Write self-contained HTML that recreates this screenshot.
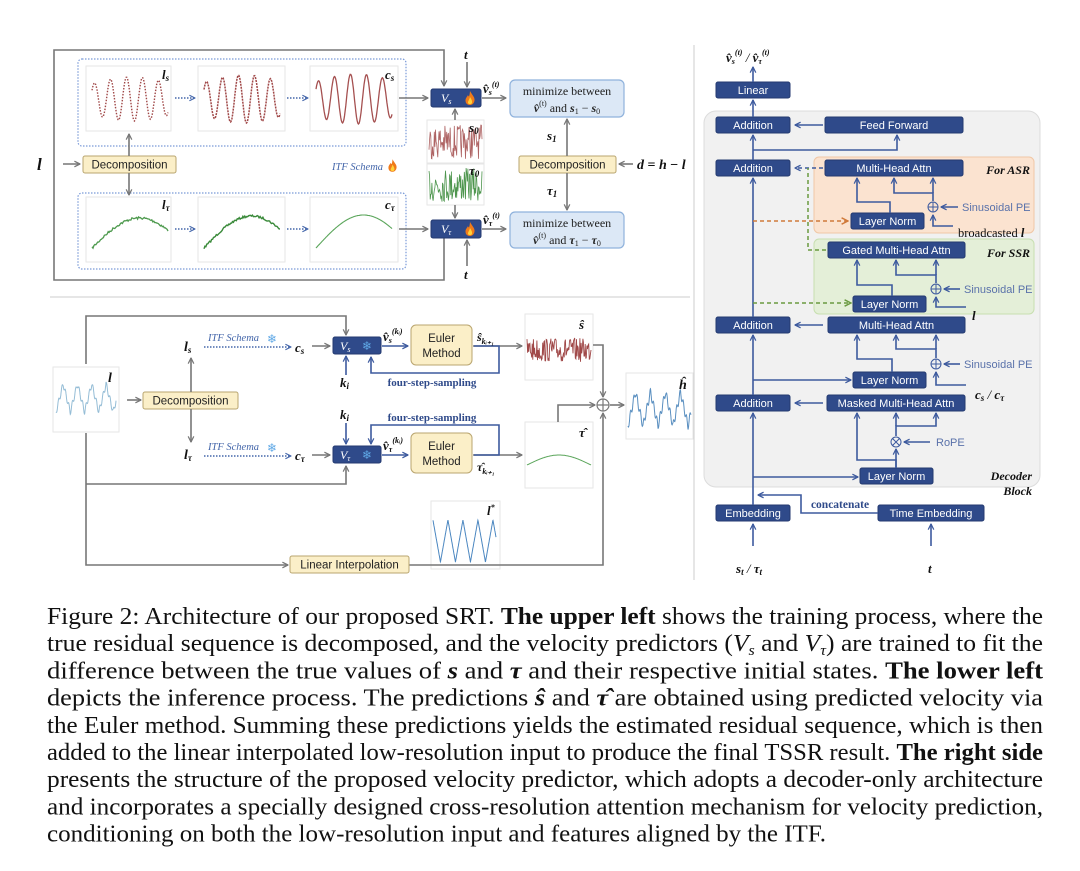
<!DOCTYPE html>
<html><head><meta charset="utf-8">
<style>
html,body{margin:0;padding:0;background:#fff;}
svg{display:block;}
.bx{fill:#2f4a8a;stroke:#243a70;stroke-width:1}
.bt{fill:#fff;font-family:"Liberation Sans",sans-serif;font-size:11px;text-anchor:middle}
.be{fill:#fbefc8;stroke:#b9a56f;stroke-width:1}
.et{fill:#222;font-family:"Liberation Sans",sans-serif;font-size:11.5px;text-anchor:middle}
.gl{stroke:#777;stroke-width:1.6;fill:none}
.bl{stroke:#3d5a9e;stroke-width:1.6;fill:none}
.m{font-family:"Liberation Serif",serif;font-style:italic;font-weight:bold;fill:#111}
.pl{fill:#fff;stroke:#e6e6e6;stroke-width:1}
.sn{fill:#5fa8e6;font-family:"DejaVu Sans",sans-serif}
.itf{fill:#4466aa;font-family:"Liberation Serif",serif;font-style:italic;font-size:10.5px}
.fs{fill:#2f4a8a;font-family:"Liberation Serif",serif;font-weight:bold;font-size:11px;text-anchor:middle}
.pe{fill:#5a72aa;font-family:"Liberation Sans",sans-serif;font-size:11px}
.cap{font-family:"Liberation Serif",serif;font-size:24px;fill:#111}
</style></head><body>
<svg id="s" width="1080" height="871" viewBox="0 0 1080 871" xmlns="http://www.w3.org/2000/svg">
<defs>
<marker id="ag" viewBox="0 0 10 10" refX="9" refY="5" markerWidth="7" markerHeight="7" orient="auto-start-reverse" markerUnits="userSpaceOnUse"><path d="M1,1 L9,5 L1,9" fill="none" stroke="#777" stroke-width="1.8"/></marker>
<marker id="ab" viewBox="0 0 10 10" refX="9" refY="5" markerWidth="7" markerHeight="7" orient="auto-start-reverse" markerUnits="userSpaceOnUse"><path d="M1,1 L9,5 L1,9" fill="none" stroke="#3d5a9e" stroke-width="1.8"/></marker>
<marker id="ad" viewBox="0 0 10 10" refX="9" refY="5" markerWidth="7" markerHeight="7" orient="auto" markerUnits="userSpaceOnUse"><path d="M1,1 L9,5 L1,9" fill="none" stroke="#4466aa" stroke-width="1.6"/></marker>
<marker id="ao" viewBox="0 0 10 10" refX="9" refY="5" markerWidth="8" markerHeight="8" orient="auto" markerUnits="userSpaceOnUse"><path d="M1,1 L9,5 L1,9" fill="none" stroke="#d07a3a" stroke-width="1.8"/></marker>
<marker id="agr" viewBox="0 0 10 10" refX="9" refY="5" markerWidth="8" markerHeight="8" orient="auto" markerUnits="userSpaceOnUse"><path d="M1,1 L9,5 L1,9" fill="none" stroke="#6a9a40" stroke-width="1.8"/></marker>
<symbol id="fl" viewBox="0 0 10 14"><path d="M5,0 C7,4 10,6 9.5,9.5 C9,13 6.5,14 5,14 C2.5,14 0.5,12.5 0.5,9.5 C0.5,7 2,6 3,4 C3.5,6 4.5,6.5 5,0Z" fill="#f07a1a"/><path d="M5,6 C6.5,8.5 7.5,10 7,12 C6.5,13.5 3.5,13.5 3,12 C2.7,10.5 4,9.5 5,6Z" fill="#ffd23a"/></symbol>
</defs>

<line x1="694" y1="45" x2="694" y2="580" stroke="#ccc" stroke-width="1"/>
<line x1="50" y1="297" x2="690" y2="297" stroke="#ccc" stroke-width="1"/>

<rect x="78" y="59" width="328" height="87" rx="4" fill="none" stroke="#7a9ad8" stroke-width="1.2" stroke-dasharray="1.5,1.5"/>
<rect x="78" y="193" width="328" height="76" rx="4" fill="none" stroke="#7a9ad8" stroke-width="1.2" stroke-dasharray="1.5,1.5"/>
<rect class="pl" x="86" y="66" width="85" height="65"/>
<rect class="pl" x="198" y="66" width="87" height="65"/>
<rect class="pl" x="310" y="66" width="88" height="65"/>
<rect class="pl" x="86" y="197" width="85" height="65"/>
<rect class="pl" x="198" y="197" width="87" height="65"/>
<rect class="pl" x="310" y="197" width="88" height="65"/>
<rect class="pl" x="427" y="120" width="57" height="43"/>
<rect class="pl" x="427" y="164" width="57" height="41"/>
<rect class="pl" x="53" y="367" width="66" height="65"/>
<rect class="pl" x="525" y="314" width="68" height="66"/>
<rect class="pl" x="525" y="422" width="68" height="66"/>
<rect class="pl" x="626" y="373" width="67" height="66"/>
<rect class="pl" x="431" y="501" width="69" height="68"/>
<g id="waves"></g>
<text class="m" x="162" y="79" font-size="13">l<tspan font-size="9" dy="2">s</tspan></text>
<text class="m" x="385" y="79" font-size="13">c<tspan font-size="9" dy="2">s</tspan></text>
<text class="m" x="162" y="209" font-size="13">l<tspan font-size="9" dy="2">τ</tspan></text>
<text class="m" x="385" y="209" font-size="13">c<tspan font-size="9" dy="2">τ</tspan></text>
<text class="m" x="469" y="132" font-size="13">s<tspan font-size="9" dy="2">0</tspan></text>
<text class="m" x="469" y="175" font-size="13">τ<tspan font-size="9" dy="2">0</tspan></text>

<polyline class="gl" points="444,232 444,280 54,280 54,50 444,50 444,86" marker-start="url(#ag)" marker-end="url(#ag)"/>
<text class="m" x="37" y="170" font-size="17">l</text>
<line class="gl" x1="63" y1="164" x2="80" y2="164" marker-end="url(#ag)"/>
<rect class="be" x="83" y="156" width="93" height="17" rx="2"/>
<text class="et" x="129.5" y="168.5">Decomposition</text>
<line class="gl" x1="129" y1="156" x2="129" y2="134" marker-end="url(#ag)"/>
<line class="gl" x1="129" y1="173" x2="129" y2="195" marker-end="url(#ag)"/>
<line stroke="#4466aa" stroke-width="1.5" stroke-dasharray="1.5,1.5" x1="175" y1="98" x2="195" y2="98" marker-end="url(#ad)"/>
<line stroke="#4466aa" stroke-width="1.5" stroke-dasharray="1.5,1.5" x1="287" y1="98" x2="308" y2="98" marker-end="url(#ad)"/>
<line stroke="#4466aa" stroke-width="1.5" stroke-dasharray="1.5,1.5" x1="175" y1="229" x2="195" y2="229" marker-end="url(#ad)"/>
<line stroke="#4466aa" stroke-width="1.5" stroke-dasharray="1.5,1.5" x1="287" y1="229" x2="308" y2="229" marker-end="url(#ad)"/>
<text class="itf" x="332" y="170">ITF Schema</text>
<use href="#fl" x="388" y="159" width="9" height="13"/>
<line class="gl" x1="399" y1="98" x2="428" y2="98" marker-end="url(#ag)"/>
<line class="gl" x1="399" y1="229" x2="428" y2="229" marker-end="url(#ag)"/>

<rect class="bx" x="431" y="89" width="50" height="18" rx="2"/>
<text x="441" y="102" fill="#fff" font-family="Liberation Serif,serif" font-style="italic" font-size="12">V<tspan font-size="8" dy="2">s</tspan></text>
<use href="#fl" x="465" y="91" width="10" height="14"/>
<rect class="bx" x="431" y="220" width="50" height="18" rx="2"/>
<text x="441" y="233" fill="#fff" font-family="Liberation Serif,serif" font-style="italic" font-size="12">V<tspan font-size="8" dy="2">τ</tspan></text>
<use href="#fl" x="465" y="222" width="10" height="14"/>
<text class="m" x="464" y="59" font-size="13" font-weight="normal">t</text>
<line class="gl" x1="467" y1="62" x2="467" y2="87" marker-end="url(#ag)"/>
<text class="m" x="464" y="279" font-size="13" font-weight="normal">t</text>
<line class="gl" x1="467" y1="266" x2="467" y2="240" marker-end="url(#ag)"/>
<line class="gl" x1="455" y1="120" x2="455" y2="109" marker-end="url(#ag)"/>
<line class="gl" x1="455" y1="205" x2="455" y2="218" marker-end="url(#ag)"/>
<line class="gl" x1="482" y1="98" x2="506" y2="98" marker-end="url(#ag)"/>
<line class="gl" x1="482" y1="229" x2="506" y2="229" marker-end="url(#ag)"/>
<text class="m" x="483" y="93" font-size="13">v̂<tspan font-size="8" dy="2">s</tspan><tspan font-size="8" dy="-8">(t)</tspan></text>
<text class="m" x="483" y="224" font-size="13">v̂<tspan font-size="8" dy="2">τ</tspan><tspan font-size="8" dy="-8">(t)</tspan></text>

<rect x="510" y="80" width="114" height="37" rx="5" fill="#dce8f6" stroke="#8fb2dc" stroke-width="1.2"/>
<text x="567" y="95" text-anchor="middle" font-family="Liberation Serif,serif" font-size="12" fill="#222">minimize between</text>
<text x="567" y="112" text-anchor="middle" font-family="Liberation Serif,serif" font-size="12" fill="#222"><tspan font-style="italic" font-weight="bold">v̂</tspan><tspan font-size="8" dy="-6">(t)</tspan><tspan dy="6"> and </tspan><tspan font-weight="bold" font-style="italic">s</tspan><tspan font-size="8" dy="2">1</tspan><tspan dy="-2"> − </tspan><tspan font-weight="bold" font-style="italic">s</tspan><tspan font-size="8" dy="2">0</tspan></text>
<rect x="510" y="212" width="114" height="36" rx="5" fill="#dce8f6" stroke="#8fb2dc" stroke-width="1.2"/>
<text x="567" y="227" text-anchor="middle" font-family="Liberation Serif,serif" font-size="12" fill="#222">minimize between</text>
<text x="567" y="244" text-anchor="middle" font-family="Liberation Serif,serif" font-size="12" fill="#222"><tspan font-style="italic" font-weight="bold">v̂</tspan><tspan font-size="8" dy="-6">(t)</tspan><tspan dy="6"> and </tspan><tspan font-weight="bold" font-style="italic">τ</tspan><tspan font-size="8" dy="2">1</tspan><tspan dy="-2"> − </tspan><tspan font-weight="bold" font-style="italic">τ</tspan><tspan font-size="8" dy="2">0</tspan></text>
<rect class="be" x="519" y="156" width="97" height="17" rx="2"/>
<text class="et" x="567.5" y="168.5">Decomposition</text>
<line class="gl" x1="567" y1="156" x2="567" y2="119" marker-end="url(#ag)"/>
<line class="gl" x1="567" y1="173" x2="567" y2="210" marker-end="url(#ag)"/>
<text class="m" x="547" y="140" font-size="13">s<tspan font-size="9" dy="2">1</tspan></text>
<text class="m" x="547" y="195" font-size="13">τ<tspan font-size="9" dy="2">1</tspan></text>
<line class="gl" x1="633" y1="164" x2="619" y2="164" marker-end="url(#ag)"/>
<text class="m" x="637" y="169" font-size="14">d <tspan font-style="normal">=</tspan> h <tspan font-style="normal">−</tspan> l</text>

<text class="m" x="108" y="382" font-size="14">l</text>
<text class="m" x="579" y="329" font-size="13">ŝ</text>
<text class="m" x="579" y="437" font-size="13">τ̂</text>
<text class="m" x="679" y="389" font-size="14">ĥ</text>
<text class="m" x="487" y="515" font-size="13">l<tspan font-size="8" dy="-5">*</tspan></text>

<polyline class="gl" points="86,364 86,316 346,316 346,335" marker-end="url(#ag)"/>
<polyline class="gl" points="86,433 86,565 288,565" marker-end="url(#ag)"/>
<polyline class="gl" points="86,484 346,484 346,466" marker-end="url(#ag)"/>
<line class="gl" x1="127" y1="400" x2="141" y2="400" marker-end="url(#ag)"/>
<rect class="be" x="143" y="392" width="95" height="17" rx="2"/>
<text class="et" x="190.5" y="404.5">Decomposition</text>
<line class="gl" x1="191" y1="392" x2="191" y2="358" marker-end="url(#ag)"/>
<line class="gl" x1="191" y1="409" x2="191" y2="442" marker-end="url(#ag)"/>
<text class="m" x="184" y="351" font-size="14">l<tspan font-size="9" dy="2">s</tspan></text>
<text class="m" x="184" y="459" font-size="14">l<tspan font-size="9" dy="2">τ</tspan></text>
<text class="itf" x="208" y="341" font-size="11">ITF Schema</text>
<text class="sn" x="267" y="343" font-size="12">❄</text>
<line stroke="#4466aa" stroke-width="1.5" stroke-dasharray="1.5,1.5" x1="204" y1="347" x2="291" y2="347" marker-end="url(#ad)"/>
<text class="itf" x="208" y="450" font-size="11">ITF Schema</text>
<text class="sn" x="267" y="452" font-size="12">❄</text>
<line stroke="#4466aa" stroke-width="1.5" stroke-dasharray="1.5,1.5" x1="204" y1="456" x2="291" y2="456" marker-end="url(#ad)"/>
<text class="m" x="295" y="352" font-size="13">c<tspan font-size="9" dy="2">s</tspan></text>
<text class="m" x="295" y="460" font-size="13">c<tspan font-size="9" dy="2">τ</tspan></text>
<line class="gl" x1="312" y1="346" x2="330" y2="346" marker-end="url(#ag)"/>
<line class="gl" x1="312" y1="455" x2="330" y2="455" marker-end="url(#ag)"/>

<rect class="bx" x="333" y="337" width="48" height="17" rx="2"/>
<text x="340" y="350" fill="#fff" font-family="Liberation Serif,serif" font-style="italic" font-size="12">V<tspan font-size="8" dy="2">s</tspan></text>
<text class="sn" x="362" y="350" font-size="12">❄</text>
<rect class="bx" x="333" y="446" width="48" height="17" rx="2"/>
<text x="340" y="459" fill="#fff" font-family="Liberation Serif,serif" font-style="italic" font-size="12">V<tspan font-size="8" dy="2">τ</tspan></text>
<text class="sn" x="362" y="459" font-size="12">❄</text>
<text class="m" x="340" y="387" font-size="13" font-weight="normal">k<tspan font-size="9" dy="2">i</tspan></text>
<line class="bl" x1="346" y1="375" x2="346" y2="356" marker-end="url(#ab)"/>
<text class="m" x="340" y="419" font-size="13" font-weight="normal">k<tspan font-size="9" dy="2">i</tspan></text>
<line class="bl" x1="346" y1="423" x2="346" y2="444" marker-end="url(#ab)"/>
<line class="bl" x1="382" y1="346" x2="408" y2="346" marker-end="url(#ab)"/>
<line class="bl" x1="382" y1="455" x2="408" y2="455" marker-end="url(#ab)"/>
<text class="m" x="383" y="341" font-size="13">v̂<tspan font-size="8" dy="2">s</tspan><tspan font-size="8" dy="-9">(kᵢ)</tspan></text>
<text class="m" x="383" y="450" font-size="13">v̂<tspan font-size="8" dy="2">τ</tspan><tspan font-size="8" dy="-9">(kᵢ)</tspan></text>
<rect class="be" x="411" y="325" width="61" height="40" rx="5"/>
<text class="et" x="441.5" y="342">Euler</text><text class="et" x="441.5" y="357">Method</text>
<rect class="be" x="411" y="433" width="61" height="40" rx="5"/>
<text class="et" x="441.5" y="450">Euler</text><text class="et" x="441.5" y="465">Method</text>
<line class="gl" x1="473" y1="346" x2="522" y2="346" marker-end="url(#ag)"/>
<line class="gl" x1="473" y1="455" x2="522" y2="455" marker-end="url(#ag)"/>
<polyline class="bl" points="474,346 499,346 499,373 371,373 371,357" marker-end="url(#ab)"/>
<polyline class="bl" points="474,455 499,455 499,425 371,425 371,444" marker-end="url(#ab)"/>
<text class="fs" x="432" y="386">four-step-sampling</text>
<text class="fs" x="432" y="421">four-step-sampling</text>
<text class="m" x="477" y="341" font-size="12">ŝ<tspan font-size="8" dy="3">kᵢ₊₁</tspan></text>
<text class="m" x="477" y="471" font-size="12">τ̂<tspan font-size="8" dy="3">kᵢ₊₁</tspan></text>

<polyline class="gl" points="593,345 603,345 603,397" marker-end="url(#ag)"/>
<polyline class="gl" points="558,422 558,405 595,405" marker-end="url(#ag)"/>
<polyline class="gl" points="409,565 603,565 603,413" marker-end="url(#ag)"/>
<circle cx="603" cy="405" r="6" fill="#fff" stroke="#777" stroke-width="1.2"/>
<path d="M597,405 H609 M603,399 V411" stroke="#777" stroke-width="1.2"/>
<line class="gl" x1="610" y1="405" x2="624" y2="405" marker-end="url(#ag)"/>
<rect class="be" x="290" y="556" width="119" height="17" rx="2"/>
<text class="et" x="349.5" y="568.5">Linear Interpolation</text>

<text class="m" x="726" y="62" font-size="13">v̂<tspan font-size="8" dy="2">s</tspan><tspan font-size="8" dy="-9">(t)</tspan><tspan dy="7" font-weight="normal"> / </tspan>v̂<tspan font-size="8" dy="2">τ</tspan><tspan font-size="8" dy="-9">(t)</tspan></text>
<rect x="704" y="111" width="336" height="376" rx="12" fill="#f1f1f1" stroke="#dcdcdc"/>
<rect x="814" y="157" width="220" height="76" rx="5" fill="#fbe3d0" stroke="#f0c7a6"/>
<rect x="814" y="239" width="220" height="75" rx="5" fill="#e4efd8" stroke="#c7dfb0"/>
<text class="m" x="1030" y="174" text-anchor="end" font-size="12">For ASR</text>
<text class="m" x="1030" y="257" text-anchor="end" font-size="12">For SSR</text>
<text class="m" x="1032" y="480" text-anchor="end" font-size="12" font-style="normal">Decoder</text>
<text class="m" x="1032" y="495" text-anchor="end" font-size="12" font-style="normal">Block</text>

<g id="rb"></g>
<line class="bl" x1="753" y1="82" x2="753" y2="67" marker-end="url(#ab)"/>
<line class="bl" x1="753" y1="117" x2="753" y2="100" marker-end="url(#ab)"/>
<line class="bl" x1="753" y1="160" x2="753" y2="135" marker-end="url(#ab)"/>
<polyline class="bl" points="753,150 897,150 897,135" marker-end="url(#ab)"/>
<line class="bl" x1="823" y1="125" x2="795" y2="125" marker-end="url(#ab)"/>
<line class="bl" x1="753" y1="317" x2="753" y2="178" marker-end="url(#ab)"/>
<line stroke="#3d5a9e" stroke-width="1.5" stroke-dasharray="4,3" x1="823" y1="168" x2="795" y2="168" marker-end="url(#ab)"/>
<polyline stroke="#6a9a40" stroke-width="1.5" stroke-dasharray="4,3" fill="none" points="826,250 808,250 808,168"/>
<line stroke="#d07a3a" stroke-width="1.5" stroke-dasharray="4,3" x1="753" y1="221" x2="848" y2="221" marker-end="url(#ao)"/>
<line stroke="#6a9a40" stroke-width="1.5" stroke-dasharray="4,3" x1="753" y1="303" x2="851" y2="303" marker-end="url(#agr)"/>
<polyline class="bl" points="890,213 890,202 857,202 857,178" marker-end="url(#ab)"/>
<polyline class="bl" points="933,201 933,193 894,193 894,178" marker-end="url(#ab)"/>
<line class="bl" x1="933" y1="193" x2="933" y2="178" marker-end="url(#ab)"/>
<line class="bl" x1="958" y1="207" x2="941" y2="207" marker-end="url(#ab)"/>
<polyline class="bl" points="953,226 933,226 933,215" marker-end="url(#ab)"/>
<text class="pe" x="962" y="211">Sinusoidal PE</text>
<text x="958" y="237" font-family="Liberation Serif,serif" font-size="12.5" fill="#111">broadcasted <tspan font-style="italic" font-weight="bold">l</tspan></text>
<polyline class="bl" points="892,296 892,285 857,285 857,260" marker-end="url(#ab)"/>
<polyline class="bl" points="936,283 936,275 896,275 896,260" marker-end="url(#ab)"/>
<line class="bl" x1="936" y1="275" x2="936" y2="260" marker-end="url(#ab)"/>
<line class="bl" x1="960" y1="289" x2="944" y2="289" marker-end="url(#ab)"/>
<polyline class="bl" points="966,307 936,307 936,297" marker-end="url(#ab)"/>
<text class="pe" x="964" y="293">Sinusoidal PE</text>
<text class="m" x="972" y="320" font-size="13">l</text>
<line class="bl" x1="823" y1="325" x2="795" y2="325" marker-end="url(#ab)"/>
<line class="bl" x1="753" y1="395" x2="753" y2="335" marker-end="url(#ab)"/>
<line class="bl" x1="753" y1="380" x2="851" y2="380" marker-end="url(#ab)"/>
<polyline class="bl" points="892,372 892,359 857,359 857,335" marker-end="url(#ab)"/>
<polyline class="bl" points="936,358 936,349 896,349 896,335" marker-end="url(#ab)"/>
<line class="bl" x1="936" y1="349" x2="936" y2="335" marker-end="url(#ab)"/>
<line class="bl" x1="960" y1="364" x2="944" y2="364" marker-end="url(#ab)"/>
<polyline class="bl" points="966,385 936,385 936,372" marker-end="url(#ab)"/>
<text class="pe" x="964" y="368">Sinusoidal PE</text>
<text class="m" x="975" y="399" font-size="13">c<tspan font-size="9" dy="2">s</tspan><tspan dy="-2" font-weight="normal"> / </tspan>c<tspan font-size="9" dy="2">τ</tspan></text>
<line class="bl" x1="823" y1="403" x2="795" y2="403" marker-end="url(#ab)"/>
<line class="bl" x1="753" y1="505" x2="753" y2="413" marker-end="url(#ab)"/>
<line class="bl" x1="753" y1="477" x2="858" y2="477" marker-end="url(#ab)"/>
<polyline class="bl" points="896,468 896,460 857,460 857,413" marker-end="url(#ab)"/>
<line class="bl" x1="896" y1="468" x2="896" y2="449" marker-end="url(#ab)"/>
<polyline class="bl" points="896,436 896,426 936,426 936,413" marker-end="url(#ab)"/>
<line class="bl" x1="896" y1="426" x2="896" y2="413" marker-end="url(#ab)"/>
<line class="bl" x1="930" y1="442" x2="904" y2="442" marker-end="url(#ab)"/>
<text class="pe" x="936" y="446">RoPE</text>
<polyline class="bl" points="878,513 801,513 801,495 758,495" marker-end="url(#ab)"/>
<text x="840" y="508" text-anchor="middle" font-family="Liberation Serif,serif" font-weight="bold" font-size="11.5" fill="#2f4a8a">concatenate</text>
<line class="bl" x1="753" y1="546" x2="753" y2="524" marker-end="url(#ab)"/>
<line class="bl" x1="931" y1="546" x2="931" y2="524" marker-end="url(#ab)"/>
<text class="m" x="736" y="573" font-size="13">s<tspan font-size="9" dy="2">t</tspan><tspan dy="-2" font-weight="normal"> / </tspan>τ<tspan font-size="9" dy="2">t</tspan></text>
<text class="m" x="928" y="573" font-size="13" font-weight="normal">t</text>

<g class="cap" id="cap"></g>
</svg>
<script>
var NS="http://www.w3.org/2000/svg",S=document.getElementById('s');
function el(t,a,p){var e=document.createElementNS(NS,t);for(var k in a)e.setAttribute(k,a[k]);(p||S).appendChild(e);return e;}
var W=document.getElementById('waves');
var seed=7;function rnd(){seed=(seed*16807)%2147483647;return seed/2147483647;}
function path(x0,w,f,col,opt){var d="",n=opt.n||120;for(var i=0;i<=n;i++){var t=i/n,x=x0+t*w,y=f(t);d+=(i?"L":"M")+x.toFixed(1)+","+y.toFixed(1);}
var a={d:d,fill:"none",stroke:col,"stroke-width":opt.sw||1.2};if(opt.da)a["stroke-dasharray"]=opt.da;if(opt.op)a.opacity=opt.op;el("path",a,W);}
function sea(y0,A){return function(t){return y0-A*(0.7+0.3*Math.sin(t*3))*Math.sin(t*Math.PI*9.5+0.6);};}
path(92,76,sea(99,22),"#a04848",{da:"1.5,1.5",sw:1.4});
path(204,76,sea(99,24),"#a04848",{da:"2,1",sw:1.5});
path(316,76,sea(99,25),"#a55050",{sw:1.3});
function tr(y0,A){return function(t){return y0-A*Math.sin(t*Math.PI*0.8);};}
path(92,76,function(t){return tr(248,30)(t)+(rnd()-.5)*2.5;},"#4e9a4e",{sw:1.3,n:80});
path(204,76,function(t){return tr(248,32)(t)+(rnd()-.5)*2;},"#3a8a3a",{sw:1.4,n:80});
path(316,76,tr(248,33),"#5aa55a",{sw:1.1});
path(429,53,function(t){return 142+(rnd()-.5)*34;},"#a04848",{sw:0.8,n:90,op:0.85});
path(429,53,function(t){return 185+(rnd()-.5)*34;},"#3a8a3a",{sw:0.8,n:90,op:0.9});
function tri(t,k){var p=(t*k)%1;return Math.abs(2*p-1);}
path(56,60,function(t){return 384+tri(t,4.2)*28+Math.sin(t*110)*3;},"#7aaccc",{sw:1,n:240,op:0.8});
path(527,64,function(t){return 350+(rnd()-.5)*24;},"#a04848",{sw:0.9,n:110});
path(527,64,function(t){return 465-10*Math.sin(t*Math.PI);},"#5aa55a",{sw:1});
path(628,63,function(t){return 392+tri(t,4.2)*34+Math.sin(t*120)*4;},"#5a8fc0",{sw:1,n:260});
path(433,63,function(t){return 520+tri(t+0.12,4.2)*42;},"#4a86c0",{sw:1,n:400});
var RB=document.getElementById('rb');
[[716,82,74,"Linear"],[716,117,74,"Addition"],[825,117,138,"Feed Forward"],[716,160,74,"Addition"],[825,160,138,"Multi-Head Attn"],
[851,213,73,"Layer Norm"],[828,242,137,"Gated Multi-Head Attn"],[853,296,73,"Layer Norm"],[716,317,74,"Addition"],[828,317,137,"Multi-Head Attn"],
[853,372,73,"Layer Norm"],[716,395,74,"Addition"],[827,395,138,"Masked Multi-Head Attn"],[860,468,73,"Layer Norm"],[716,505,74,"Embedding"],[878,505,106,"Time Embedding"]]
.forEach(function(b){el("rect",{"class":"bx",x:b[0],y:b[1],width:b[2],height:16,rx:2},RB);var t=el("text",{"class":"bt",x:b[0]+b[2]/2,y:b[1]+12},RB);t.textContent=b[3];});
[[933,207],[936,289],[936,364]].forEach(function(c){el("circle",{cx:c[0],cy:c[1],r:5,fill:"none",stroke:"#3d5a9e","stroke-width":1},RB);el("path",{d:"M"+(c[0]-5)+","+c[1]+"H"+(c[0]+5)+"M"+c[0]+","+(c[1]-5)+"V"+(c[1]+5),stroke:"#3d5a9e","stroke-width":1},RB);});
el("circle",{cx:896,cy:442,r:5,fill:"none",stroke:"#3d5a9e","stroke-width":1},RB);
el("path",{d:"M892.5,438.5L899.5,445.5M899.5,438.5L892.5,445.5",stroke:"#3d5a9e","stroke-width":1},RB);
var C=document.getElementById('cap');
var L=[[["Figure 2: Architecture of our proposed SRT. ",0],["The upper left",1],[" shows the training process, where the",0]],
[["true residual sequence is decomposed, and the velocity predictors (",0],["V",2],["s",3],[" and ",0],["V",2],["τ",3],[") are trained to fit the",0]],
[["difference between the true values of ",0],["s",4],[" and ",0],["τ",4],[" and their respective initial states.  ",0],["The lower left",1]],
[["depicts the inference process.  The predictions ",0],["ŝ",4],[" and ",0],["τ̂",4],["  are obtained using predicted velocity via",0]],
[["the Euler method. Summing these predictions yields the estimated residual sequence, which is then",0]],
[["added to the linear interpolated low-resolution input to produce the final TSSR result. ",0],["The right side",1]],
[["presents the structure of the proposed velocity predictor, which adopts a decoder-only architecture",0]],
[["and incorporates a specially designed cross-resolution attention mechanism for velocity prediction,",0]],
[["conditioning on both the low-resolution input and features aligned by the ITF.",0]]];
var ends=[1043,1043,1043,1043,1043,1043,1043,1043,826];
L.forEach(function(line,i){var t=el("text",{x:47,y:624+i*27.2,textLength:ends[i]-47,lengthAdjust:"spacingAndGlyphs"},C);
var prevSub=false;
line.forEach(function(s){var sp=el("tspan",{},t);sp.textContent=s[0];
if(s[1]==1)sp.setAttribute("font-weight","bold");
if(s[1]==2)sp.setAttribute("font-style","italic");
if(s[1]==4){sp.setAttribute("font-style","italic");sp.setAttribute("font-weight","bold");}
if(s[1]==3){sp.setAttribute("font-size","15");sp.setAttribute("font-style","italic");sp.setAttribute("dy","4");prevSub=true;}
else if(prevSub){sp.setAttribute("dy","-4");prevSub=false;}
});});
</script>
</body></html>
